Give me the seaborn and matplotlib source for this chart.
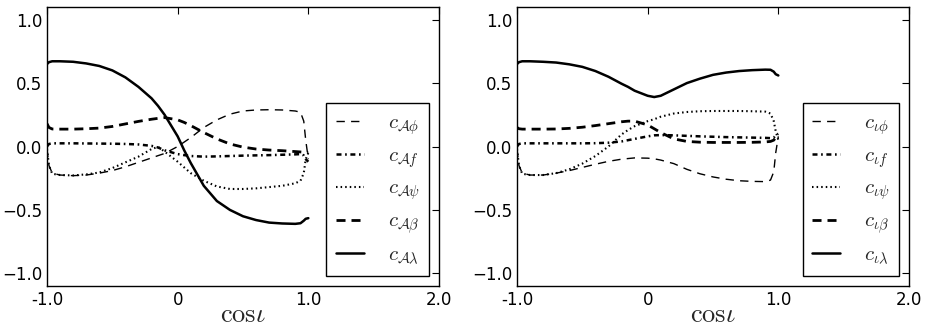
import numpy as np
import pandas as pd
import matplotlib
matplotlib.use("Agg")
import matplotlib.pyplot as plt
import seaborn as sns

# ---------------- data ----------------
x_cos = [-1.0, -0.985, -0.96, -0.9, -0.8, -0.7, -0.6, -0.5, -0.4, -0.3, -0.2, -0.15,
         -0.1, 0.0, 0.05, 0.1, 0.2, 0.3, 0.4, 0.5, 0.6, 0.7, 0.8, 0.9, 0.94, 0.965, 0.98, 1.0]

# left panel: c_{A.}
A_phi = [-0.02, -0.15, -0.21, -0.225, -0.23, -0.225, -0.21, -0.19, -0.16, -0.125, -0.09, -0.072,
         -0.055, 0.0, 0.035, 0.07, 0.15, 0.21, 0.255, 0.28, 0.288, 0.29, 0.288, 0.28, 0.27, 0.2, 0.05, -0.1]
A_f = [0.0, 0.02, 0.025, 0.025, 0.025, 0.024, 0.023, 0.022, 0.02, 0.016, 0.005, -0.008,
       -0.03, -0.06, -0.068, -0.075, -0.08, -0.078, -0.075, -0.072, -0.07, -0.068, -0.065, -0.062, -0.06, -0.07, -0.1, -0.12]
A_psi = [-0.02, -0.15, -0.215, -0.225, -0.228, -0.22, -0.205, -0.17, -0.125, -0.08, -0.02, -0.003,
         -0.04, -0.12, -0.165, -0.21, -0.27, -0.315, -0.335, -0.335, -0.33, -0.32, -0.31, -0.29, -0.27, -0.21, -0.1, -0.05]
A_beta = [0.18, 0.15, 0.138, 0.137, 0.137, 0.14, 0.145, 0.158, 0.178, 0.198, 0.215, 0.222,
          0.228, 0.21, 0.19, 0.165, 0.11, 0.06, 0.02, -0.005, -0.02, -0.028, -0.033, -0.04, -0.043, -0.045, -0.05, -0.05]
A_lam = [0.65, 0.665, 0.672, 0.672, 0.668, 0.655, 0.635, 0.6, 0.545, 0.47, 0.38, 0.32,
         0.25, 0.08, -0.03, -0.13, -0.31, -0.43, -0.5, -0.55, -0.58, -0.6, -0.607, -0.61, -0.605, -0.585, -0.57, -0.565]

# right panel: c_{iota .}
i_phi = [-0.02, -0.15, -0.21, -0.225, -0.225, -0.21, -0.19, -0.165, -0.14, -0.117, -0.1, -0.095,
         -0.09, -0.092, -0.097, -0.107, -0.135, -0.18, -0.215, -0.24, -0.258, -0.27, -0.275, -0.277, -0.265, -0.2, -0.05, 0.08]
i_f = [0.0, 0.02, 0.025, 0.025, 0.025, 0.025, 0.025, 0.025, 0.026, 0.03, 0.04, 0.05,
       0.06, 0.08, 0.088, 0.09, 0.088, 0.084, 0.08, 0.077, 0.074, 0.072, 0.07, 0.068, 0.066, 0.07, 0.09, 0.1]
i_psi = [-0.02, -0.15, -0.215, -0.225, -0.225, -0.21, -0.18, -0.135, -0.075, 0.0, 0.095, 0.13,
         0.16, 0.2, 0.215, 0.235, 0.26, 0.272, 0.278, 0.28, 0.28, 0.28, 0.278, 0.275, 0.26, 0.2, 0.12, 0.05]
i_beta = [0.15, 0.14, 0.137, 0.137, 0.137, 0.138, 0.143, 0.152, 0.165, 0.18, 0.195, 0.2,
          0.2, 0.17, 0.14, 0.11, 0.06, 0.04, 0.034, 0.032, 0.032, 0.032, 0.033, 0.036, 0.04, 0.05, 0.07, 0.08]
i_lam = [0.65, 0.665, 0.672, 0.672, 0.668, 0.662, 0.648, 0.628, 0.595, 0.55, 0.495, 0.47,
         0.44, 0.4, 0.39, 0.4, 0.45, 0.5, 0.535, 0.565, 0.583, 0.595, 0.602, 0.606, 0.605, 0.59, 0.57, 0.56]

left_labels = [r"$c_{\mathcal{A}\phi}$", r"$c_{\mathcal{A}f}$", r"$c_{\mathcal{A}\psi}$",
               r"$c_{\mathcal{A}\beta}$", r"$c_{\mathcal{A}\lambda}$"]
right_labels = [r"$c_{\iota\phi}$", r"$c_{\iota f}$", r"$c_{\iota\psi}$",
                r"$c_{\iota\beta}$", r"$c_{\iota\lambda}$"]

xtick_vals = [-1.0, 0.0, 1.0, 2.0]
xtick_labels = ["-1.0", "0", "1.0", "2.0"]
ytick_vals = [-1.0, -0.5, 0.0, 0.5, 1.0]
ytick_labels = ["\u22121.0", "\u22120.5", "0.0", "0.5", "1.0"]

# ---------------- style ----------------
sns.set_style("white")
plt.rcParams.update({
    "font.family": ["DejaVu Sans"],
    "mathtext.fontset": "cm",
    "lines.scale_dashes": False,
    "xtick.direction": "in",
    "ytick.direction": "in",
    "xtick.top": True,
    "ytick.right": True,
    "xtick.major.size": 5,
    "ytick.major.size": 5,
    "xtick.color": "black",
    "ytick.color": "black",
    "axes.edgecolor": "black",
    "axes.linewidth": 1.0,
})

styles = [
    dict(lw=1.0, linestyle=(0, (6.0, 4.5))),
    dict(lw=1.8, linestyle=(0, (3.6, 2.6, 1.2, 2.6))),
    dict(lw=1.5, linestyle=(0, (1.1, 2.2))),
    dict(lw=2.0, linestyle=(0, (6.5, 4.3))),
    dict(lw=1.8, linestyle="-"),
]

fig = plt.figure(figsize=(9.26, 3.34), dpi=100)
W, H = 926, 334
ax1 = fig.add_axes([47 / W, 1 - 286 / H, 392 / W, 279 / H])
ax2 = fig.add_axes([517 / W, 1 - 286 / H, 392 / W, 279 / H])

panels = [
    (ax1, [A_phi, A_f, A_psi, A_beta, A_lam], left_labels),
    (ax2, [i_phi, i_f, i_psi, i_beta, i_lam], right_labels),
]

for ax, series, labels in panels:
    for vals, lab, st in zip(series, labels, styles):
        df = pd.DataFrame({"x": x_cos, "y": vals})
        sns.lineplot(data=df, x="x", y="y", ax=ax, color="black", label=lab,
                     estimator=None, sort=False, **st)
    ax.set_xlim(-1.0, 2.0)
    ax.set_ylim(-1.1, 1.1)
    ax.set_xticks(xtick_vals)
    ax.set_xticklabels(xtick_labels, fontsize=12)
    ax.set_yticks(ytick_vals)
    ax.set_yticklabels(ytick_labels, fontsize=12)
    ax.set_xlabel(r"$\mathrm{cos}\iota$", fontsize=19, labelpad=-5)
    ax.set_ylabel("")
    for sp in ax.spines.values():
        sp.set_visible(True)
        sp.set_color("black")
    leg = ax.legend(loc="lower right", bbox_to_anchor=(382 / 392, 10 / 279),
                    borderaxespad=0, fontsize=15, frameon=True, fancybox=False,
                    edgecolor="black", framealpha=1, handlelength=1.35,
                    handletextpad=1.15, labelspacing=0.4, borderpad=0.45)
    leg.get_frame().set_linewidth(1.0)

fig.savefig("out.png", dpi=100)
